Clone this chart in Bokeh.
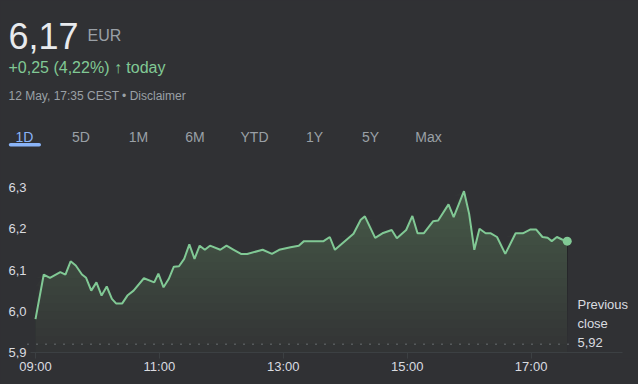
import numpy as np
import pandas as pd
from bokeh.plotting import figure
from bokeh.models import (Range1d, FixedTicker, CustomJSTickFormatter, Label,
                          BoxAnnotation, GlobalInlineStyleSheet)
from bokeh.core.properties import value
from bokeh.embed import file_html
from bokeh.resources import INLINE

# ---------------- data ----------------
DATE = "2023-05-12"
times = ["09:00", "09:08", "09:14", "09:24", "09:29", "09:34", "09:39", "09:45",
         "09:49", "09:54", "09:59", "10:04", "10:09", "10:14", "10:18", "10:24",
         "10:29", "10:35", "10:45", "10:55", "10:59", "11:04", "11:09", "11:14",
         "11:19", "11:24", "11:29", "11:34", "11:39", "11:44", "11:49", "11:59",
         "12:05", "12:12", "12:19", "12:25", "12:40", "12:49", "12:56", "13:07",
         "13:15", "13:20", "13:39", "13:45", "13:50", "14:08", "14:15", "14:19",
         "14:29", "14:36", "14:45", "14:50", "14:59", "15:05", "15:10", "15:16",
         "15:25", "15:30", "15:40", "15:45", "15:55", "16:00", "16:05", "16:10",
         "16:16", "16:21", "16:27", "16:35", "16:45", "16:52", "16:59", "17:05",
         "17:11", "17:16", "17:20", "17:25", "17:30", "17:35"]
prices = [5.981, 6.089, 6.081, 6.095, 6.089, 6.121, 6.111, 6.089,
          6.081, 6.050, 6.070, 6.038, 6.060, 6.030, 6.019, 6.019,
          6.038, 6.050, 6.080, 6.070, 6.091, 6.058, 6.078, 6.108,
          6.109, 6.127, 6.162, 6.127, 6.159, 6.149, 6.159, 6.149,
          6.159, 6.149, 6.139, 6.139, 6.149, 6.139, 6.149, 6.155,
          6.159, 6.170, 6.170, 6.180, 6.149, 6.188, 6.222, 6.230,
          6.178, 6.189, 6.197, 6.177, 6.197, 6.231, 6.189, 6.189,
          6.218, 6.220, 6.259, 6.228, 6.291, 6.236, 6.149, 6.200,
          6.189, 6.189, 6.180, 6.139, 6.189, 6.189, 6.198, 6.198,
          6.180, 6.178, 6.170, 6.180, 6.174, 6.170]
prev_close = 5.92
y_ticks = [5.9, 6.0, 6.1, 6.2, 6.3]
y_tick_labels = ["5,9", "6,0", "6,1", "6,2", "6,3"]
x_tick_times = ["09:00", "11:00", "13:00", "15:00", "17:00"]
tab_names = ["1D", "5D", "1M", "6M", "YTD", "1Y", "5Y", "Max"]
price_text = "6,17"
currency_text = "EUR"
change_text = "+0,25 (4,22%) \u2191 today"
stamp_text = "12 May, 17:35 CEST \u2022 Disclaimer"
prev_lines = ["Previous", "close", "5,92"]

# ---------------- style / layout ----------------
BG = "#303134"
GREEN = "#81c995"
BLUE = "#8ab4f8"
GREY = "#9aa0a6"
LIGHT = "#dadce0"
FAINT = "#3c4043"
FONT = "Liberation Sans"

W, H = 638, 384
BASE_Y = 352                 # pixel row of the 5,9 baseline
FH = 358                     # frame height (ticks drawn inward from 358 to 352)
BOTTOM = H - FH
PX_PER_MIN = 61.95 / 60.0
PX_PER_UNIT = 412.5
MS_PER_PX = 60000.0 / PX_PER_MIN

def ts(t):
    return pd.Timestamp(DATE + " " + t).value / 1e6  # ms

xs = np.array([ts(t) for t in times])
ys = np.array(prices)
x_tick_ms = [ts(t) for t in x_tick_times]

x_start = x_tick_ms[0] - 35 * MS_PER_PX
x_end = x_start + W * MS_PER_PX
y_start = y_ticks[0] - (FH - BASE_Y) / PX_PER_UNIT
y_end = y_start + FH / PX_PER_UNIT

def fx(px):   # page pixel -> data x
    return x_start + px * MS_PER_PX

def fy(py):   # page pixel -> data y
    return y_start + (FH - py) / PX_PER_UNIT

p = figure(width=W, height=H, output_backend="svg", toolbar_location=None,
           x_range=Range1d(x_start, x_end), y_range=Range1d(y_start, y_end),
           y_axis_location=None,
           min_border_left=0, min_border_right=0, min_border_top=0,
           min_border_bottom=BOTTOM, background_fill_color=BG,
           border_fill_color=BG, outline_line_color=None)
p.stylesheets = [GlobalInlineStyleSheet(
    css="html, body { background: %s; margin: 0; padding: 0; overflow: hidden; }" % BG)]
p.grid.visible = False

# gradient fill under the line (stacked translucent layers)
levels = np.linspace(5.90, 6.30, 21)[:-1]
for lvl in levels:
    p.varea(x=xs, y1=lvl, y2=np.maximum(ys, lvl), fill_color=GREEN,
            fill_alpha=0.018)

# baseline at 5,9
p.line(x=[fx(30), fx(622)], y=[y_ticks[0], y_ticks[0]], line_color=FAINT, line_width=1)

# previous close dotted line
p.line(x=[fx(27), fx(575)], y=[prev_close, prev_close], line_color=GREY,
       line_alpha=0.7, line_width=1.5, line_dash="1 8")

p.line(xs, ys, line_color=GREEN, line_width=2)
p.scatter(x=[xs[-1]], y=[ys[-1]], size=9, fill_color=GREEN, line_color=None)

# y tick labels (drawn inside the chart, left aligned like the reference)
p.text(x=[fx(8)] * len(y_ticks), y=y_ticks, text=y_tick_labels,
       text_font=value(FONT), text_font_size="13px", text_color=LIGHT,
       text_baseline="middle", text_align="left")

# x axis
xa = p.xaxis[0]
xa.ticker = FixedTicker(ticks=x_tick_ms)
xa.formatter = CustomJSTickFormatter(args=dict(v=x_tick_ms, l=x_tick_times), code="""
    for (let i = 0; i < v.length; i++) { if (Math.abs(v[i] - tick) < 1000) return l[i]; }
    return '';
""")
xa.axis_line_color = None
xa.major_tick_line_color = FAINT
xa.major_tick_out = 0
xa.major_tick_in = 6
xa.minor_tick_line_color = None
xa.major_label_standoff = 0
xa.major_label_text_font = FONT
xa.major_label_text_font_size = "13px"
xa.major_label_text_color = LIGHT

# header texts
def add_label(text, px, py, size, color, baseline="alphabetic", align="left"):
    p.add_layout(Label(x=fx(px), y=fy(py), text=text, text_font=FONT,
                       text_font_size=size, text_color=color,
                       text_baseline=baseline, text_align=align))

add_label(price_text, 8, 35, "36px", "#e8eaed")
add_label(currency_text, 87, 35, "16px", GREY)
add_label(change_text, 8, 67, "16px", GREEN)
add_label(stamp_text, 8, 95, "12px", GREY)

tab_centers = [24, 80.5, 138, 194.5, 254, 314, 370, 428]
for name, cx in zip(tab_names, tab_centers):
    add_label(name, cx, 136, "14px", BLUE if name == "1D" else GREY, align="center")

p.add_layout(BoxAnnotation(left=fx(8.3), right=fx(40.5), top=fy(142.5), bottom=fy(146),
                           fill_color=BLUE, fill_alpha=1.0, line_color=None,
                           border_radius=2))

for txt, py in zip(prev_lines, [304, 323.3, 341.7]):
    add_label(txt, 577, py, "13px", LIGHT, baseline="middle")

open("out.html", "w").write(file_html(p, INLINE))
